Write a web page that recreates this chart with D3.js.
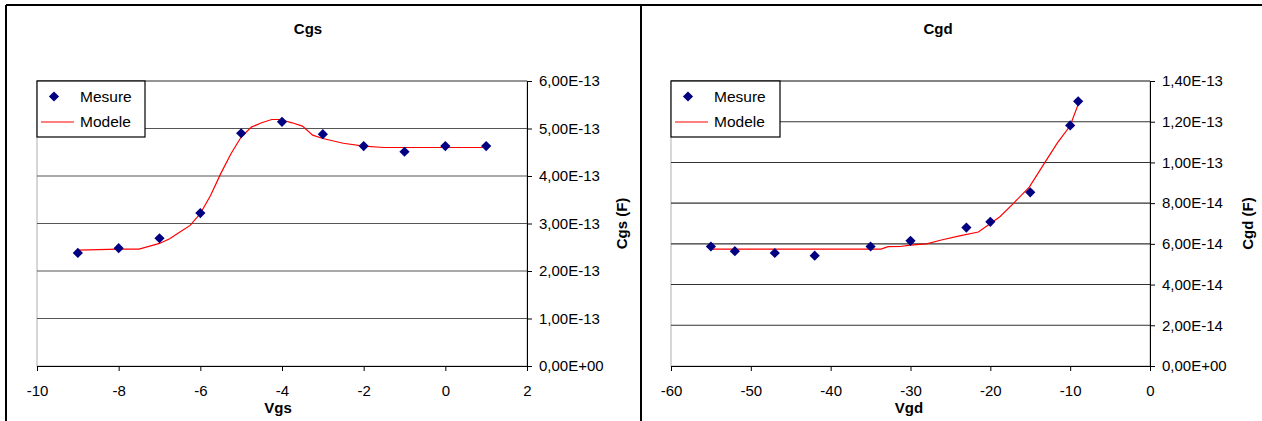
<!DOCTYPE html>
<html>
<head>
<meta charset="utf-8">
<script src="https://cdn.jsdelivr.net/npm/d3@7"></script>
<style>
  html, body { margin: 0; padding: 0; background: #fff; }
  svg { display: block; font-family: "Liberation Sans", Arial, sans-serif; }
</style>
</head>
<body>
<svg id="chart" width="1262" height="421"></svg>
<script>
// ---------- DATA ----------
const cgsMesureX = [-9, -8, -7, -6, -5, -4, -3, -2, -1, 0, 1];
const cgsMesureY = [2.38e-13, 2.48e-13, 2.69e-13, 3.22e-13, 4.90e-13, 5.14e-13, 4.88e-13, 4.63e-13, 4.51e-13, 4.63e-13, 4.63e-13];
const cgsModeleX = [-9, -8.5, -8, -7.5, -7, -6.75, -6.5, -6.25, -6, -5.75, -5.5, -5.25, -5, -4.75, -4.5, -4.25, -4.05, -3.75, -3.5, -3.25, -3, -2.5, -2, -1.5, -1, -0.5, 0, 0.5, 1];
const cgsModeleY = [2.44e-13, 2.45e-13, 2.46e-13, 2.46e-13, 2.58e-13, 2.68e-13, 2.82e-13, 2.96e-13, 3.21e-13, 3.59e-13, 4.05e-13, 4.47e-13, 4.82e-13, 5.03e-13, 5.12e-13, 5.19e-13, 5.19e-13, 5.12e-13, 5.05e-13, 4.86e-13, 4.79e-13, 4.69e-13, 4.63e-13, 4.60e-13, 4.60e-13, 4.60e-13, 4.60e-13, 4.60e-13, 4.60e-13];
const cgsXTicks = [-10, -8, -6, -4, -2, 0, 2];
const cgsYTicks = [0, 1e-13, 2e-13, 3e-13, 4e-13, 5e-13, 6e-13];

const cgdMesureX = [-55, -52, -47, -42, -35, -30, -23, -20, -15, -10, -9];
const cgdMesureY = [5.87e-14, 5.64e-14, 5.55e-14, 5.42e-14, 5.87e-14, 6.15e-14, 6.80e-14, 7.08e-14, 8.53e-14, 11.82e-14, 13.0e-14];
const cgdModeleX = [-55, -50, -45, -40, -35, -33.7, -32.8, -31.3, -30, -28, -26, -24, -21.5, -18.8, -17.1, -15.1, -13.1, -11.6, -10, -9];
const cgdModeleY = [5.74e-14, 5.74e-14, 5.74e-14, 5.74e-14, 5.74e-14, 5.74e-14, 5.86e-14, 5.87e-14, 5.94e-14, 6.00e-14, 6.20e-14, 6.38e-14, 6.58e-14, 7.33e-14, 7.99e-14, 8.80e-14, 10.04e-14, 10.96e-14, 11.80e-14, 12.85e-14];
const cgdXTicks = [-60, -50, -40, -30, -20, -10, 0];
const cgdYTicks = [0, 2e-14, 4e-14, 6e-14, 8e-14, 10e-14, 12e-14, 14e-14];

const legendLabels = ["Mesure", "Modele"];

// ---------- HELPERS ----------
function fmtExp(v) {
  if (Math.abs(v) < 1e-30) return "0,00E+00";
  let s = v.toExponential(2);           // e.g. 6.00e-13
  let [m, e] = s.split("e");
  let sign = e[0] === "-" ? "-" : "+";
  let digits = e.replace(/[+-]/, "");
  if (digits.length < 2) digits = "0" + digits;
  return m.replace(".", ",") + "E" + sign + digits;
}
const fmtInt = d => String(d);   // plain hyphen-minus like the original

const svg = d3.select("#chart");

// outer frame lines
const frame = svg.append("g").attr("stroke", "#000").attr("stroke-width", 2);
frame.append("line").attr("x1", 6).attr("x2", 1262).attr("y1", 5).attr("y2", 5);
frame.append("line").attr("x1", 6).attr("x2", 6).attr("y1", 5).attr("y2", 421);
frame.append("line").attr("x1", 641).attr("x2", 641).attr("y1", 5).attr("y2", 421);

function drawChart(cfg) {
  const g = svg.append("g");
  const x = d3.scaleLinear().domain(cfg.xDomain).range([cfg.x0, cfg.x1]);
  const y = d3.scaleLinear().domain(cfg.yDomain).range([cfg.y1, cfg.y0]);

  // plot area border (light gray)
  g.append("rect")
    .attr("x", cfg.x0).attr("y", cfg.y0)
    .attr("width", cfg.x1 - cfg.x0).attr("height", cfg.y1 - cfg.y0)
    .attr("fill", "#fff").attr("stroke", "#b0b0b0").attr("stroke-width", 1);

  // gridlines
  g.append("g").selectAll("line")
    .data(cfg.yTicks.filter(d => d > 0))
    .join("line")
    .attr("x1", cfg.x0).attr("x2", cfg.x1)
    .attr("y1", d => y(d)).attr("y2", d => y(d))
    .attr("stroke", cfg.gridColor).attr("stroke-width", 1.1);

  // Y axis on right
  const yAxis = d3.axisRight(y).tickValues(cfg.yTicks).tickFormat(fmtExp)
    .tickSizeInner(5).tickSizeOuter(0).tickPadding(7);
  const ya = g.append("g").attr("transform", `translate(${cfg.x1},0)`).call(yAxis);
  ya.selectAll("text").attr("font-size", 15).attr("fill", "#000")
    .attr("font-family", "Liberation Sans, Arial, sans-serif");
  ya.selectAll("line, path").attr("stroke", "#000");

  // X axis
  const xAxis = d3.axisBottom(x).tickValues(cfg.xTicks).tickFormat(fmtInt)
    .tickSizeInner(5).tickSizeOuter(0).tickPadding(14);
  const xa = g.append("g").attr("transform", `translate(0,${cfg.y1})`).call(xAxis);
  xa.selectAll("text").attr("font-size", 15).attr("fill", "#000")
    .attr("font-family", "Liberation Sans, Arial, sans-serif");
  xa.selectAll("line, path").attr("stroke", "#000");

  // model line
  const lineData = cfg.modeleX.map((d, i) => [d, cfg.modeleY[i]]);
  g.append("path")
    .datum(lineData)
    .attr("fill", "none").attr("stroke", "#ff0000").attr("stroke-width", 1.2)
    .attr("d", d3.line().x(d => x(d[0])).y(d => y(d[1])));

  // measure markers (diamonds)
  const ptData = cfg.mesureX.map((d, i) => [d, cfg.mesureY[i]]);
  const sq = d3.symbol().type(d3.symbolSquare).size(52);
  g.append("g").selectAll("path")
    .data(ptData)
    .join("path")
    .attr("d", sq)
    .attr("transform", d => `translate(${x(d[0])},${y(d[1])}) rotate(45)`)
    .attr("fill", "#000080");

  // Title
  g.append("text").attr("x", cfg.titleX).attr("y", 34)
    .attr("text-anchor", "middle").attr("font-weight", "bold").attr("font-size", 15)
    .text(cfg.title);

  // x-axis title
  g.append("text").attr("x", cfg.xTitleX).attr("y", 413)
    .attr("text-anchor", "middle").attr("font-weight", "bold").attr("font-size", 15)
    .text(cfg.xTitle);

  // y-axis title (rotated)
  g.append("text")
    .attr("transform", `translate(${cfg.yTitleX},${(cfg.y0 + cfg.y1) / 2}) rotate(-90)`)
    .attr("text-anchor", "middle").attr("font-weight", "bold").attr("font-size", 15)
    .attr("dy", "0.35em")
    .text(cfg.yTitle);

  // Legend
  const lg = g.append("g").attr("transform", `translate(${cfg.x0},${cfg.y0})`);
  lg.append("rect").attr("x", 0).attr("y", 0).attr("width", cfg.legendW).attr("height", 56)
    .attr("fill", "#fff").attr("stroke", "#000").attr("stroke-width", 1.2);
  lg.append("path").attr("d", sq).attr("transform", "translate(17,15.5) rotate(45)").attr("fill", "#000080");
  lg.append("line").attr("x1", 4).attr("x2", 37).attr("y1", 41).attr("y2", 41)
    .attr("stroke", "#ff0000").attr("stroke-width", 1.2);
  lg.selectAll("text.leg").data(legendLabels).join("text")
    .attr("class", "leg")
    .attr("x", 43).attr("y", (d, i) => 15.5 + i * 25.5).attr("dy", "0.35em")
    .attr("font-size", 15.5).attr("fill", "#000")
    .text(d => d);
}

drawChart({
  x0: 37, x1: 527, y0: 81, y1: 366,
  xDomain: [-10, 2], yDomain: [0, 6e-13],
  xTicks: cgsXTicks, yTicks: cgsYTicks,
  mesureX: cgsMesureX, mesureY: cgsMesureY,
  modeleX: cgsModeleX, modeleY: cgsModeleY,
  title: "Cgs", titleX: 308, xTitle: "Vgs", xTitleX: 278,
  yTitle: "Cgs (F)", yTitleX: 622, gridColor: "#555", legendW: 108
});

drawChart({
  x0: 671, x1: 1150, y0: 81, y1: 366,
  xDomain: [-60, 0], yDomain: [0, 14e-14],
  xTicks: cgdXTicks, yTicks: cgdYTicks,
  mesureX: cgdMesureX, mesureY: cgdMesureY,
  modeleX: cgdModeleX, modeleY: cgdModeleY,
  title: "Cgd", titleX: 938, xTitle: "Vgd", xTitleX: 909,
  yTitle: "Cgd (F)", yTitleX: 1248, gridColor: "#333", legendW: 109
});
</script>
</body>
</html>
